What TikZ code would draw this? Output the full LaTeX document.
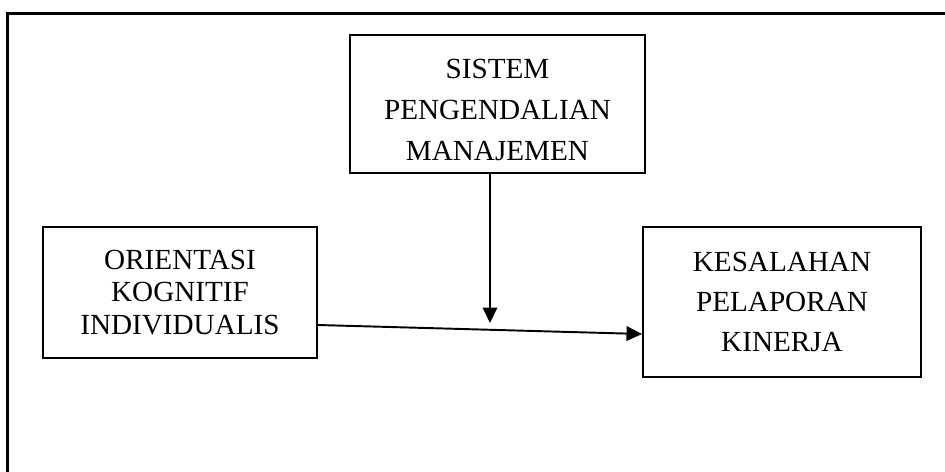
\documentclass[tikz,border=0pt]{standalone}
\usepackage{fontspec}
\setmainfont{Liberation Serif}
\usetikzlibrary{arrows.meta,positioning,calc}

\begin{document}
\begin{tikzpicture}[
    var/.style={draw, line width=1.1pt, align=center, inner sep=0pt, font=\fontsize{16.6}{23.3}\selectfont},
    arr/.style={-{Triangle[length=0.31cm, width=0.29cm]}, line width=1.1pt}
]
\useasboundingbox (0,0) rectangle (18.9,-9.44);
\begin{scope}
\clip (0,0) rectangle (18.9,-9.44);
\draw[line width=1.3pt] (0.15,-0.27) rectangle (19.5,-10);
\end{scope}

\node[var, minimum width=5.9cm, minimum height=2.76cm] (spm) at (9.95,-2.08) {\begin{tabular}{@{}c@{}}\rule{0pt}{25pt}SISTEM\\PENGENDALIAN\\MANAJEMEN\end{tabular}};
\node[var, minimum width=5.48cm, minimum height=2.62cm, font=\fontsize{16.6}{18.6}\selectfont] (oki) at (3.6,-5.85) {ORIENTASI\\KOGNITIF\\INDIVIDUALIS};
\node[var, minimum width=5.56cm, minimum height=3cm, font=\fontsize{16.6}{23}\selectfont] (kpk) at (15.64,-6.04) {KESALAHAN\\PELAPORAN\\KINERJA};
\coordinate (mod) at (9.8,-6.46);

\draw[arr] ([yshift=-0.65cm]oki.east) -- ([yshift=-0.64cm]kpk.west);
\draw[arr] ([xshift=-0.15cm]spm.south) -- (mod);
\end{tikzpicture}
\end{document}
